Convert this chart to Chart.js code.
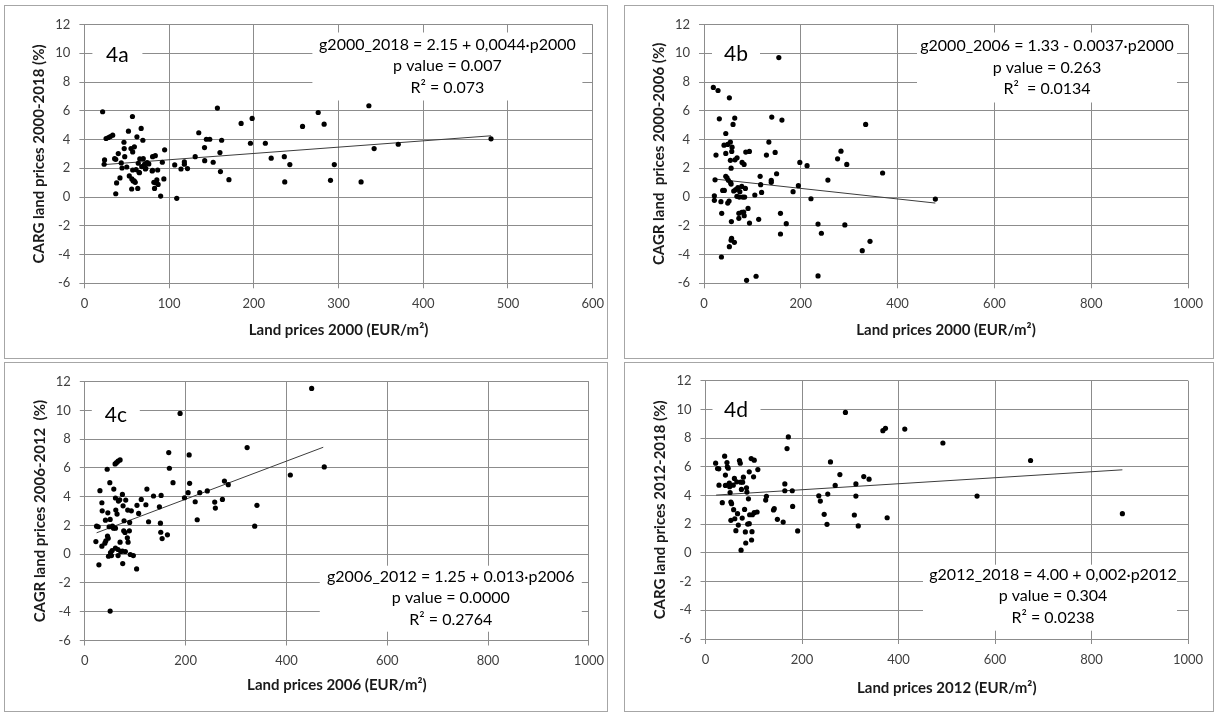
<!DOCTYPE html>
<html>
<head>
<meta charset="utf-8">
<script src="https://cdn.jsdelivr.net/npm/chart.js@4.4.1/dist/chart.umd.min.js"></script>
<style>
  body { margin: 0; background: #fff; width: 1217px; height: 713px; position: relative; overflow: hidden; }
  .panel { position: absolute; border: 1px solid #a6a6a6; box-sizing: border-box; }
  canvas { position: absolute; }
</style>
</head>
<body>
<div class="panel" style="left:4px;top:5px;width:604px;height:354px"></div>
<div class="panel" style="left:624px;top:5px;width:590px;height:354px"></div>
<div class="panel" style="left:4px;top:362px;width:604px;height:350px"></div>
<div class="panel" style="left:624px;top:362px;width:590px;height:350px"></div>
<canvas id="c4a" width="612" height="358" style="left:0;top:0"></canvas>
<canvas id="c4b" width="605" height="358" style="left:612px;top:0"></canvas>
<canvas id="c4c" width="612" height="355" style="left:0;top:358px"></canvas>
<canvas id="c4d" width="605" height="355" style="left:612px;top:358px"></canvas>
<script>
// 4a: precio suelo 2000 vs crecimiento 2000-2018
const p2000a = [21.5,23.8,23.3,25.6,28.4,30.6,33.4,35.7,37,38,40,42,43.5,44.4,46.7,47,47.6,50,52,53,55,56,56.7,57,57,55.8,57.6,59,60,61,62,63,63.6,64.5,65.4,67,67.7,69,69.5,71,72,74,76,80,80.5,82,82.8,83.7,85.5,86.5,87,90,92,93.8,94.7,106.6,109,114,118,118,121.7,130.8,135,141.8,142,144,148,152,157,160,160.6,162,170.6,185,196,198,213.6,220.5,236,236.5,242.5,257.5,276,283,290.5,295,326.6,335.8,342,370.5,480,65,72.5,58.8,84.3,37,80.4];
const g2000_2018 = [5.93,2.58,2.28,4.07,4.14,4.21,4.30,2.67,0.23,0.98,3.02,1.33,2.37,2.02,3.81,3.37,2.81,2.09,4.58,1.47,3.37,1.26,5.60,3.14,1.88,0.56,1.12,3.49,1.02,1.91,4.19,0.60,2.35,1.72,2.65,4.77,2.12,3.95,2.67,2.28,1.95,2.40,2.30,1.81,2.81,1.02,0.60,2.88,1.19,1.88,0.88,0.07,2.42,1.26,3.28,2.23,-0.09,1.95,2.44,2.28,1.98,2.81,4.47,3.44,2.53,4.02,4.02,2.42,6.19,3.09,1.77,3.95,1.21,5.12,3.74,5.47,3.74,2.70,2.81,1.05,2.26,4.91,5.88,5.07,1.16,2.26,1.05,6.35,3.37,3.67,4.05,1.69,2.0,1.12,1.0,2.62,1.86];
const trendA_x = [22, 480];
const trendA_y = [2.25, 4.26];

// 4b: precio suelo 2000 vs crecimiento 2000-2006
const p2000b = [154.6,19.3,29,52.4,31.7,63.5,60,140,161,45,41.4,49,54.5,58,57.3,24.8,45,86.3,93.8,134,129,147,68.3,64,54.5,78.7,82.8,56,198,22.8,45,47.6,50.4,56,116,117,139,139,150,195,184,119,105,38.6,42,55,21.4,21.4,35,49,51.8,61.4,65.5,70,74,68,73,80,84,85.5,78,36.6,56.6,72,72,78,82,83,91,94,113,158,170,158,57,56,62.8,52.4,36,88,107.6,213,221,256,276,283,295,334,369,478,235.6,242.5,291,327,343,235.6];
const g2000_2006 = [9.70,7.62,7.41,6.90,5.44,5.49,5.05,5.56,5.35,4.42,3.61,3.66,3.82,3.47,3.17,2.92,3.03,3.13,3.17,3.82,2.92,3.10,2.73,2.59,2.55,2.41,2.27,2.01,2.41,1.20,1.44,1.34,1.16,0.90,1.44,0.86,1.16,1.02,1.62,0.79,0.37,0.32,0.14,0.46,0.46,1.00,0.09,-0.23,-0.32,-0.42,-0.28,0.42,0.51,0.65,0.37,0.05,0.00,0.00,0.00,0.60,0.74,-1.13,-1.71,-1.48,-1.13,-1.06,-1.04,-1.30,-0.79,-1.81,-1.55,-1.13,-1.85,-2.57,-2.87,-3.00,-3.15,-3.45,-4.17,-5.79,-5.51,2.18,-0.12,1.18,2.66,3.19,2.27,5.05,1.67,-0.14,-1.88,-2.52,-1.94,-3.73,-3.08,-5.49];
const trendB_x = [22.8, 478];
const trendB_y = [1.25, -0.42];

// 4c: precio suelo 2006 vs crecimiento 2006-2012
const p2006 = [166.5,207,167.8,175,207.9,44.4,60.1,62.8,66,70,49.6,30,57.5,74.6,60.8,66.7,69.3,81.2,33.9,123.2,136.3,151.4,112,103.5,121.2,148,61.5,75.9,85.1,92.3,34.5,45.7,64,50.3,41,106.8,126.5,89,77.9,150,23.4,26.6,54.9,56.9,60.8,48.3,77.2,79.8,88.4,150.7,163.9,153.4,45,46.4,84.4,85.8,22,41.8,39.8,33.9,70,60.8,66,74.6,80.5,54.2,51,47,52.9,66,71.3,90.3,96.3,28,75.2,102.8,50.3,189,450,322,407.7,475,197.7,205,219,228,243,223,257.7,259,273,277,284.6,337,341.5];
const g2006_2012 = [7.07,6.91,5.98,4.98,4.93,5.91,6.28,6.37,6.47,6.56,4.98,4.42,4.53,4.16,3.91,3.70,3.79,3.77,3.58,4.53,4.05,4.09,3.81,3.40,3.44,3.30,3.07,3.37,3.07,3.02,3.02,2.88,2.79,2.42,2.37,2.84,2.26,2.21,2.33,2.16,1.95,1.91,1.95,1.81,1.81,1.91,1.63,1.51,1.63,1.53,1.35,1.09,1.26,1.12,1.14,0.84,0.88,0.93,0.77,0.56,0.84,0.42,0.33,0.21,0.19,0.26,0.12,-0.14,-0.09,-0.09,0.19,-0.02,-0.09,-0.74,-0.65,-1.02,-3.95,9.79,11.53,7.42,5.51,6.07,3.93,4.28,3.65,4.28,4.40,2.40,3.63,3.21,3.81,5.09,4.84,1.95,3.40];
const trendC_x = [23.4, 473];
const trendC_y = [1.49, 7.44];

// 4d: precio suelo 2012 vs crecimiento 2012-2018
const p2012 = [21,25,27.5,28,34.8,39.7,41.3,41.3,44.5,45.3,47,48.6,50,51,49.4,52.6,54,57.5,58.3,52.6,60.7,63,59.9,64.8,66.4,68,70.4,72,72.9,74.5,76.1,73.7,78.5,77,81,82.6,83.4,85,85.8,87.4,89,90.7,91.5,90.7,94.7,95.5,96.4,97.2,99.6,101,101,108.5,106.9,124.7,126.3,140.9,142.5,149,161,164.4,164.4,169,171.7,179.8,180.6,191,234.8,238,246,251.8,253.4,259,268.8,278.5,290,308.5,311.7,311.7,316.6,328,339,367.6,373,376.5,413,492,562.8,673.7,864];
const g2012_2018 = [6.25,5.88,5.86,4.72,3.50,6.74,5.42,4.70,6.30,6.00,5.90,4.79,4.61,4.21,4.86,3.54,3.43,4.72,3.01,2.27,2.38,1.55,5.19,4.95,2.73,1.94,6.44,6.25,4.93,4.42,2.43,0.19,5.28,4.93,3.03,1.46,0.69,4.54,4.24,2.01,3.77,5.65,2.66,2.04,6.57,0.90,1.48,2.66,5.30,6.46,2.80,5.81,2.85,3.68,3.94,2.99,3.08,2.34,2.15,4.33,4.81,7.27,8.08,4.33,3.24,1.53,3.98,3.61,2.69,1.99,4.10,6.34,4.70,5.46,9.79,2.64,4.81,3.96,1.88,5.32,5.14,8.52,8.68,2.45,8.63,7.66,3.96,6.44,2.73];
const trendD_x = [22, 864];
const trendD_y = [4.03, 5.79];

const yTicks = [-6, -4, -2, 0, 2, 4, 6, 8, 10, 12];

const fuente = 'Lato, "Noto Sans", sans-serif';

// Cuadros de texto blancos (ecuación y etiqueta) sobre la cuadrícula
const notasPlugin = {
  id: 'notas',
  beforeDatasetsDraw(chart, args, opts) {
    const { ctx, chartArea: a } = chart;
    ctx.save();
    (opts.cajas || []).forEach(c => {
      ctx.fillStyle = '#fff';
      ctx.fillRect(a.left + c.x0, a.top + c.y0, c.x1 - c.x0, c.y1 - c.y0);
      ctx.fillStyle = '#000';
      ctx.font = c.font;
      ctx.textAlign = 'center';
      ctx.textBaseline = 'middle';
      c.lineas.forEach((t, i) => ctx.fillText(t, a.left + c.cx, a.top + c.ys[i]));
    });
    ctx.restore();
  }
};

function puntos(xs, ys) {
  return xs.map((x, i) => ({ x: x, y: ys[i] }));
}

function crearPanel(id, cfg) {
  const ctx = document.getElementById(id).getContext('2d');
  new Chart(ctx, {
    type: 'scatter',
    data: {
      datasets: [
        {
          data: puntos(cfg.xs, cfg.ys),
          backgroundColor: '#000',
          borderWidth: 0,
          pointRadius: 2.6,
        },
        {
          type: 'line',
          data: puntos(cfg.tx, cfg.ty),
          borderColor: '#3c3c3c',
          borderWidth: 1,
          pointRadius: 0,
          fill: false,
        },
      ],
    },
    options: {
      responsive: false,
      animation: false,
      events: [],
      layout: { padding: { top: cfg.top, right: cfg.right, left: 0, bottom: 0 } },
      plugins: {
        legend: { display: false },
        tooltip: { enabled: false },
        notas: { cajas: cfg.cajas },
      },
      scales: {
        x: {
          type: 'linear',
          min: 0,
          max: cfg.xmax,
          afterFit: s => { s.height = cfg.xh; },
          ticks: {
            stepSize: cfg.xstep, padding: 8, color: '#404040',
            font: { family: fuente, size: 13 },
            callback: v => String(v),
          },
          grid: { color: '#8c8c8c', tickLength: 5 },
          border: { color: '#8c8c8c' },
          title: {
            display: true,
            text: cfg.xtitle,
            color: '#1a1a1a',
            font: { family: fuente, size: 15, weight: 'bold' },
            padding: { top: 0, bottom: cfg.xtpad },
          },
        },
        y: {
          min: -6,
          max: 12,
          afterFit: s => { s.width = cfg.yw; },
          afterBuildTicks: s => { s.ticks = yTicks.map(v => ({ value: v })); },
          ticks: { padding: 9, color: '#404040', font: { family: fuente, size: 13 } },
          grid: { color: '#8c8c8c', tickLength: 5 },
          border: { color: '#8c8c8c' },
          title: {
            display: true,
            text: cfg.ytitle,
            color: '#1a1a1a',
            font: { family: fuente, size: 15, weight: 'bold' },
            padding: { top: cfg.ytpad, bottom: 0 },
          },
        },
      },
    },
    plugins: [notasPlugin],
  });
}

const fEq = '16px ' + fuente;
const fTag = '21px ' + fuente;

document.addEventListener('DOMContentLoaded', () => {
  crearPanel('c4a', {
    xs: p2000a, ys: g2000_2018, tx: trendA_x, ty: trendA_y,
    xmax: 600, xstep: 100, top: 24.5, right: 17.5, yw: 84.4, xh: 74.7, xtpad: 19, ytpad: 30.5,
    xtitle: 'Land prices 2000 (EUR/m²)', ytitle: 'CARG land prices 2000-2018 (%)',
    cajas: [
      { x0: 228, x1: 498, y0: 8, y1: 76, cx: 363, ys: [20, 41.5, 63], font: fEq,
        lineas: ['g2000_2018 = 2.15 + 0,0044·p2000', 'p value = 0.007', 'R² = 0.073'] },
      { x0: 8, x1: 58, y0: 14, y1: 47, cx: 33, ys: [30.5], font: fTag, lineas: ['4a'] },
    ],
  });
  crearPanel('c4b', {
    xs: p2000b, ys: g2000_2006, tx: trendB_x, ty: trendB_y,
    xmax: 1000, xstep: 200, top: 24.5, right: 29, yw: 92, xh: 74.7, xtpad: 19, ytpad: 38,
    xtitle: 'Land prices 2000 (EUR/m²)', ytitle: 'CAGR land  prices 2000-2006 (%)',
    cajas: [
      { x0: 213, x1: 473, y0: 8, y1: 78, cx: 343, ys: [21, 43, 64], font: fEq,
        lineas: ['g2000_2006 = 1.33 - 0.0037·p2000', 'p value = 0.263', 'R²  = 0.0134'] },
      { x0: 8, x1: 56, y0: 14, y1: 47, cx: 32, ys: [30], font: fTag, lineas: ['4b'] },
    ],
  });
  crearPanel('c4c', {
    xs: p2006, ys: g2006_2012, tx: trendC_x, ty: trendC_y,
    xmax: 1000, xstep: 200, top: 23.7, right: 19, yw: 84.8, xh: 72.5, xtpad: 19, ytpad: 31,
    xtitle: 'Land prices 2006 (EUR/m²)', ytitle: 'CAGR land prices 2006-2012  (%)',
    cajas: [
      { x0: 235, x1: 497, y0: 184, y1: 250, cx: 366, ys: [195, 216.6, 238.3], font: fEq,
        lineas: ['g2006_2012 = 1.25 + 0.013·p2006', 'p value = 0.0000', 'R² = 0.2764'] },
      { x0: 7, x1: 55, y0: 18, y1: 51, cx: 31, ys: [34], font: fTag, lineas: ['4c'] },
    ],
  });
  crearPanel('c4d', {
    xs: p2012, ys: g2012_2018, tx: trendD_x, ty: trendD_y,
    xmax: 1000, xstep: 200, top: 22.7, right: 29, yw: 93.5, xh: 74, xtpad: 16, ytpad: 39.5,
    xtitle: 'Land prices 2012 (EUR/m²)', ytitle: 'CARG land prices 2012-2018 (%)',
    cajas: [
      { x0: 217.5, x1: 471.5, y0: 184, y1: 250, cx: 347.5, ys: [194.3, 215, 237.6], font: fEq,
        lineas: ['g2012_2018 = 4.00 + 0,002·p2012', 'p value = 0.304', 'R² = 0.0238'] },
      { x0: 7, x1: 55, y0: 13, y1: 46, cx: 30.5, ys: [29.5], font: fTag, lineas: ['4d'] },
    ],
  });
});
</script>
</body>
</html>
